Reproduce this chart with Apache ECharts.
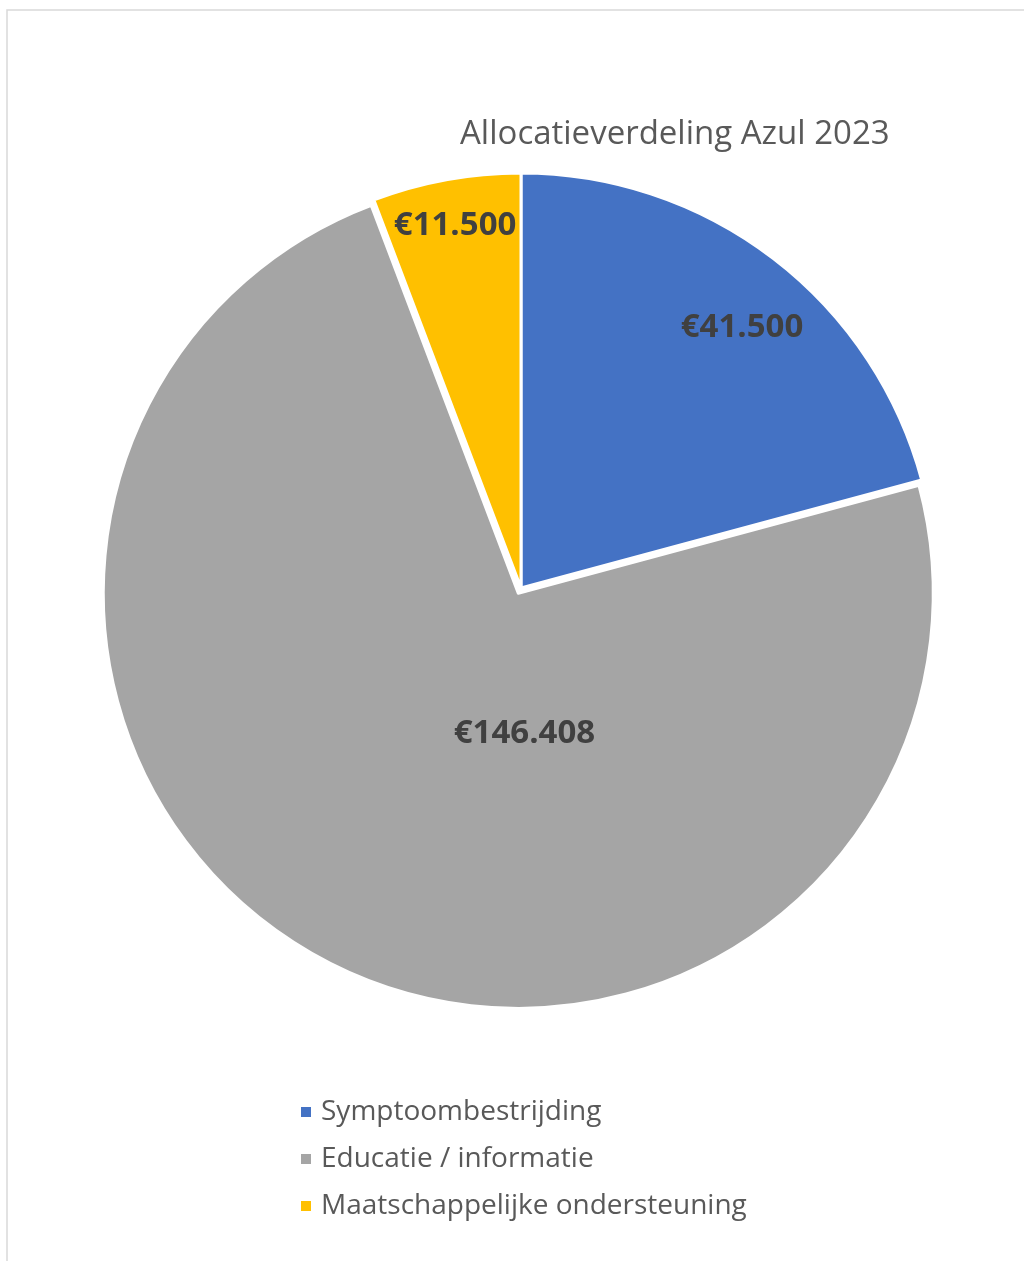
<!DOCTYPE html>
<html>
<head>
<meta charset="utf-8">
<style>html,body{margin:0;padding:0;background:#fff;}#c{width:1024px;height:1261px;}</style>
<script src="https://cdn.jsdelivr.net/npm/echarts@6/dist/echarts.min.js"></script>
</head>
<body>
<div id="c"></div>
<script>
const categories = ['Symptoombestrijding', 'Educatie / informatie', 'Maatschappelijke ondersteuning'];
const values = [41500, 146408, 11500];
const labels = ['€41.500', '€146.408', '€11.500'];
const colors = ['#4472C4', '#A5A5A5', '#FFC000'];
const labelOffsets = [[93, -93], [102, -47], [-28, -155]];

const chart = echarts.init(document.getElementById('c'));
chart.setOption({
  animation: false,
  title: {
    text: 'Allocatieverdeling Azul 2023',
    left: 455, top: 113,
    textStyle: { fontFamily: 'Open Sans', fontWeight: 'normal', fontSize: 33, color: '#595959' }
  },
  legend: {
    orient: 'vertical', left: 294, top: 1093,
    itemWidth: 12, itemHeight: 12, itemGap: 19,
    icon: 'rect',
    selectedMode: false,
    textStyle: { fontFamily: 'Open Sans', fontSize: 28, color: '#595959', padding: [0, 0, 0, 4] },
    data: categories
  },
  graphic: [{
    type: 'rect', shape: { x: 7, y: 10, width: 1040, height: 1300 },
    style: { fill: 'none', stroke: '#d9d9d9', lineWidth: 1.5 }, silent: true, z: -10
  }],
  series: [{
    type: 'pie',
    center: [521, 588],
    radius: 415,
    startAngle: 90,
    clockwise: true,
    selectedMode: 'single',
    selectedOffset: 6,
    itemStyle: { borderColor: '#fff', borderWidth: 3 },
    label: {
      show: true, position: 'inside',
      fontFamily: 'Open Sans', fontWeight: 'bold', fontSize: 33, color: '#404040'
    },
    labelLine: { show: false },
    emphasis: { disabled: true },
    data: categories.map((name, i) => ({
      name: name,
      value: values[i],
      selected: i === 1,
      itemStyle: { color: colors[i] },
      label: { formatter: labels[i], offset: labelOffsets[i] },
      select: {
        itemStyle: { color: colors[i], borderColor: '#fff', borderWidth: 3 },
        label: { formatter: labels[i], offset: labelOffsets[i], fontFamily: 'Open Sans', fontWeight: 'bold', fontSize: 33, color: '#404040' }
      }
    }))
  }]
});
</script>
</body>
</html>
